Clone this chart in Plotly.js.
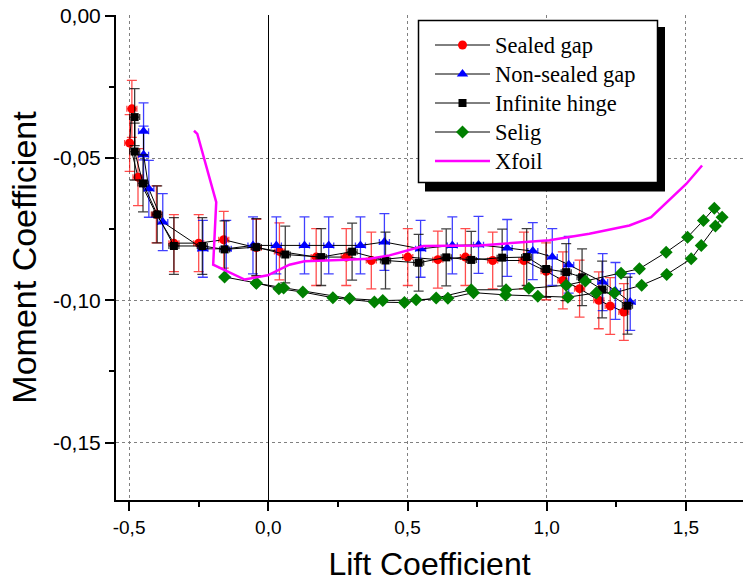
<!DOCTYPE html>
<html>
<head>
<meta charset="utf-8">
<script src="https://cdn.plot.ly/plotly-3.0.1.min.js"></script>
<style>html,body{margin:0;padding:0;background:#fff;}#chart{width:746px;height:582px;}</style>
</head>
<body>
<div id="chart"></div>
<script>
// ---- Data ----
var sealedX = [-0.490,-0.498,-0.468,-0.402,-0.339,-0.250,-0.160,-0.043,0.040,0.172,0.280,0.370,0.501,0.609,0.708,0.806,0.918,0.998,1.058,1.118,1.187,1.228,1.277];
var sealedY = [-0.0327,-0.0447,-0.0567,-0.0698,-0.0799,-0.0799,-0.0787,-0.0815,-0.0828,-0.0848,-0.0848,-0.0860,-0.0848,-0.0857,-0.0848,-0.0860,-0.0860,-0.0898,-0.0930,-0.0959,-0.1000,-0.1020,-0.1041];

var nonSealedX = [-0.448,-0.448,-0.429,-0.379,-0.235,-0.151,-0.055,0.029,0.130,0.217,0.331,0.417,0.547,0.661,0.755,0.858,0.950,1.020,1.079,1.201,1.247,1.300];
var nonSealedY = [-0.0406,-0.0488,-0.0608,-0.0725,-0.0819,-0.0819,-0.0807,-0.0807,-0.0807,-0.0807,-0.0807,-0.0795,-0.0819,-0.0807,-0.0805,-0.0816,-0.0827,-0.0848,-0.0875,-0.0936,-0.0967,-0.1006];

var hingeX = [-0.480,-0.480,-0.450,-0.399,-0.339,-0.237,-0.157,-0.043,0.061,0.190,0.301,0.421,0.540,0.639,0.729,0.840,0.928,0.998,1.070,1.127,1.199,1.290];
var hingeY = [-0.0356,-0.0477,-0.0589,-0.0698,-0.0809,-0.0809,-0.0821,-0.0813,-0.0839,-0.0848,-0.0829,-0.0860,-0.0868,-0.0849,-0.0858,-0.0850,-0.0848,-0.0890,-0.0901,-0.0919,-0.0962,-0.1019];

var seligX = [-0.157,-0.043,0.038,0.124,0.232,0.381,0.489,0.603,0.729,0.854,0.936,1.070,1.139,1.267,1.333,1.429,1.506,1.563,1.602,
              1.630,1.606,1.555,1.519,1.431,1.341,1.243,1.178,1.076,0.968,0.852,0.737,0.645,0.531,0.411,0.292,0.055,-0.043];
var seligY = [-0.0918,-0.0939,-0.0959,-0.0971,-0.0991,-0.1006,-0.1008,-0.0992,-0.0963,-0.0963,-0.0958,-0.0947,-0.0932,-0.0905,-0.0889,-0.0831,-0.0778,-0.0719,-0.0676,
              -0.0708,-0.0739,-0.0807,-0.0854,-0.0909,-0.0947,-0.0974,-0.0974,-0.0989,-0.0986,-0.0981,-0.0973,-0.0993,-0.0998,-0.1001,-0.0994,-0.0957,-0.0940];

var xfoilX = [-0.267,-0.255,-0.187,-0.198,-0.085,-0.002,0.076,0.130,0.256,0.364,0.435,0.557,0.759,1.010,1.153,1.297,1.375,1.501,1.558];
var xfoilY = [-0.0404,-0.0415,-0.0655,-0.0875,-0.0927,-0.0912,-0.0875,-0.0863,-0.0858,-0.0854,-0.0842,-0.0809,-0.0807,-0.0789,-0.0766,-0.0737,-0.0708,-0.0591,-0.0526];

var errCm = 0.01;     // vertical error bar half-length
var errCl = 0.018;    // horizontal error bar half-length

var xTickVals = [-0.5, 0.0, 0.5, 1.0, 1.5];
var xTickText = ["-0,5", "0,0", "0,5", "1,0", "1,5"];
var xMinor = [-0.25, 0.25, 0.75, 1.25];
var yTickVals = [0.0, -0.05, -0.10, -0.15];
var yTickText = ["0,00", "-0,05", "-0,10", "-0,15"];
var yMinor = [-0.025, -0.075, -0.125];

var seriesNames = ["Sealed gap", "Non-sealed gap", "Infinite hinge", "Selig", "Xfoil"];

// ---- layout helpers (pixel -> paper) ----
var W = 746, H = 582, ML = 116, MR = 3, MT = 15, MB = 82;
var PW = W - ML - MR, PH = H - MT - MB;
function px(x) { return (x - ML) / PW; }
function py(y) { return 1 - (y - MT) / PH; }
function big(s) { return '<span style="font-size:22.5px">' + s + '</span>'; }

function expTrace(name, xs, ys, color, symbol, size, ecolor) {
  return {
    type: 'scatter', mode: 'lines+markers', name: big(name), x: xs, y: ys,
    line: {color: '#000000', width: 1},
    marker: {color: color, symbol: symbol, size: size, line: {width: 0}},
    error_y: {type: 'constant', value: errCm, color: ecolor, thickness: 1.3, width: 5},
    error_x: {type: 'constant', value: errCl, color: ecolor, thickness: 1.3, width: 3}
  };
}

var traces = [
  expTrace(seriesNames[0], sealedX, sealedY, '#ff0000', 'circle', 9, 'rgba(255,0,0,0.7)'),
  expTrace(seriesNames[1], nonSealedX, nonSealedY, '#0000ff', 'triangle-up', 10, 'rgba(0,0,255,0.75)'),
  expTrace(seriesNames[2], hingeX, hingeY, '#000000', 'square', 8, 'rgba(0,0,0,0.75)'),
  {type: 'scatter', mode: 'lines+markers', name: big(seriesNames[3]), x: seligX, y: seligY,
   line: {color: '#000000', width: 1},
   marker: {color: '#008000', symbol: 'diamond', size: 10, line: {width: 0}}},
  {type: 'scatter', mode: 'lines', name: big(seriesNames[4]), x: xfoilX, y: xfoilY,
   line: {color: '#ff00ff', width: 2.5}}
];

var tickFontX = {family: 'Liberation Sans, Arial, sans-serif', size: 19, color: '#000'};
var tickFontY = {family: 'Liberation Sans, Arial, sans-serif', size: 21, color: '#000'};

var layout = {
  width: W, height: H,
  margin: {l: ML, r: MR, t: MT, b: MB, pad: 0},
  paper_bgcolor: '#fff', plot_bgcolor: '#fff',
  showlegend: true,
  xaxis: {
    range: [-0.547, 1.705],
    tickmode: 'array', tickvals: xTickVals, ticktext: xTickText,
    ticks: 'outside', ticklen: 9, tickwidth: 2, tickcolor: '#000',
    minor: {tickmode: 'array', tickvals: xMinor, ticks: 'outside', ticklen: 5, tickwidth: 2, tickcolor: '#000', showgrid: false},
    showline: true, linecolor: '#000', linewidth: 2,
    showgrid: true, gridcolor: '#808080', gridwidth: 1, griddash: 'dot',
    zeroline: true, zerolinecolor: '#000', zerolinewidth: 1,
    tickfont: tickFontX,
    title: {text: 'Lift Coefficient', font: {family: 'Liberation Sans, Arial, sans-serif', size: 32, color: '#000'}, standoff: 24}
  },
  yaxis: {
    range: [-0.1702, 0.0003],
    tickmode: 'array', tickvals: yTickVals, ticktext: yTickText,
    ticks: 'outside', ticklen: 9, tickwidth: 2, tickcolor: '#000',
    minor: {tickmode: 'array', tickvals: yMinor, ticks: 'outside', ticklen: 5, tickwidth: 2, tickcolor: '#000', showgrid: false},
    showline: true, linecolor: '#000', linewidth: 2,
    showgrid: true, gridcolor: '#808080', gridwidth: 1, griddash: 'dot',
    zeroline: false,
    tickfont: tickFontY,
    title: {text: 'Moment Coefficient', font: {family: 'Liberation Sans, Arial, sans-serif', size: 34, color: '#000'}, standoff: 6}
  },
  legend: {
    x: px(430), y: py(25.5), xanchor: 'left', yanchor: 'top',
    bgcolor: 'rgba(0,0,0,0)', borderwidth: 0,
    font: {family: 'Liberation Serif, Times New Roman, serif', size: 20, color: '#000'},
    itemwidth: 55, tracegroupgap: 0
  },
  shapes: [
    {type: 'rect', xref: 'paper', yref: 'paper', layer: 'above',
     x0: px(425), x1: px(665), y0: py(191.5), y1: py(27),
     fillcolor: '#000', line: {width: 0}},
    {type: 'rect', xref: 'paper', yref: 'paper', layer: 'above',
     x0: px(418.5), x1: px(657.5), y0: py(182.5), y1: py(20.5),
     fillcolor: '#fff', line: {color: '#000', width: 1.5}}
  ]
};

Plotly.newPlot('chart', traces, layout, {displayModeBar: false, staticPlot: true});
</script>
</body>
</html>
